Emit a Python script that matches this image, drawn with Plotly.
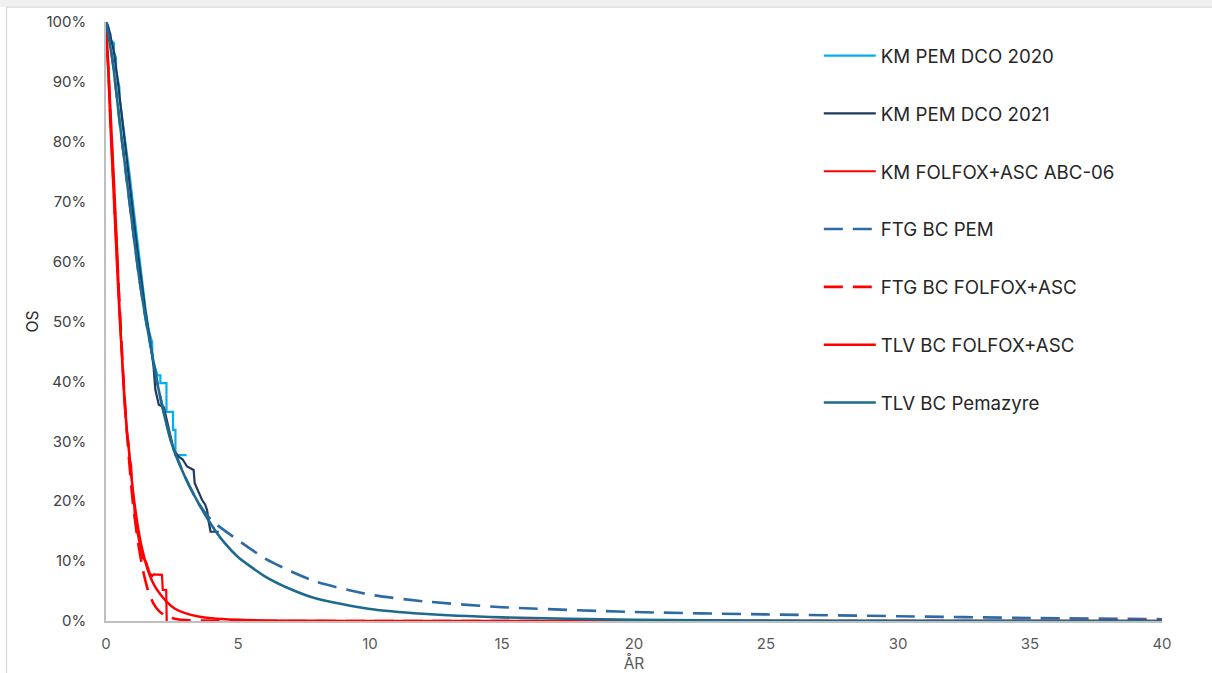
import plotly.graph_objects as go

# ---------------- data ----------------
# KM PEM DCO 2020 (light blue, step-like KM)
km2020_t = [0, 0.08, 0.08, 0.17, 0.17, 0.30, 0.30, 0.38, 0.38, 0.51, 0.51, 0.62, 0.75, 0.88, 1.0, 1.12,
            1.25, 1.38, 1.5, 1.62, 1.75, 1.75, 1.85, 1.95, 2.06, 2.06, 2.29, 2.29, 2.54, 2.54, 2.63, 2.63, 3.05]
km2020_s = [1.00, 0.995, 0.985, 0.98, 0.97, 0.965, 0.95, 0.94, 0.92, 0.89, 0.875, 0.84, 0.795, 0.75, 0.705, 0.66,
            0.61, 0.565, 0.52, 0.485, 0.465, 0.44, 0.425, 0.41, 0.41, 0.397, 0.397, 0.349, 0.349, 0.319, 0.319, 0.277, 0.277]

# KM PEM DCO 2021 (dark navy)
km2021_t = [0, 0.1, 0.2, 0.3, 0.45, 0.6, 0.75, 0.9, 1.05, 1.2, 1.35, 1.5, 1.65, 1.8, 1.87, 1.95, 2.0, 2.19, 2.3,
            2.4, 2.5, 2.57, 2.76, 2.9, 3.07, 3.2, 3.32, 3.36, 3.5, 3.64, 3.75, 3.83, 3.89, 3.96, 4.27]
km2021_s = [1.00, 0.99, 0.97, 0.95, 0.90, 0.84, 0.78, 0.72, 0.67, 0.615, 0.565, 0.515, 0.475, 0.425, 0.386, 0.37, 0.361, 0.357, 0.335,
            0.315, 0.298, 0.285, 0.274, 0.27, 0.258, 0.255, 0.252, 0.23, 0.215, 0.202, 0.195, 0.185, 0.166, 0.149, 0.149]

# KM FOLFOX+ASC ABC-06 (red, jagged)
kmred_t = [0, 0.05, 0.1, 0.15, 0.2, 0.25, 0.3, 0.38, 0.45, 0.52, 0.6, 0.68, 0.75, 0.8, 0.85, 0.9, 0.95, 1.0, 1.05, 1.1,
           1.15, 1.2, 1.3, 1.4, 1.5, 1.55, 1.65, 1.75, 1.8, 2.0, 2.12, 2.15, 2.28, 2.3]
kmred_s = [1.00, 0.96, 0.90, 0.84, 0.79, 0.74, 0.70, 0.62, 0.56, 0.50, 0.44, 0.38, 0.335, 0.31, 0.30, 0.27, 0.26, 0.22, 0.205, 0.17,
           0.16, 0.145, 0.125, 0.105, 0.10, 0.095, 0.08, 0.075, 0.078, 0.077, 0.077, 0.052, 0.052, 0.0]

# FTG BC PEM (dashed blue)
ftgpem_t = [0, 0.25, 0.5, 0.75, 1.0, 1.25, 1.5, 1.75, 2.0, 2.5, 3.0, 3.5, 4.0, 5.0, 6.0, 7.0, 8.0, 10.0, 12.0, 15.0,
            20.0, 25.0, 30.0, 35.0, 40.0]
ftgpem_s = [1.00, 0.935, 0.84, 0.75, 0.66, 0.575, 0.505, 0.445, 0.385, 0.295, 0.24, 0.197, 0.168, 0.135, 0.105, 0.083,
            0.065, 0.044, 0.033, 0.023, 0.015, 0.011, 0.008, 0.005, 0.003]

# FTG BC FOLFOX+ASC (dashed red)
ftgred_t = [0, 0.1, 0.2, 0.3, 0.4, 0.5, 0.6, 0.7, 0.8, 0.9, 1.0, 1.2, 1.4, 1.6, 1.8, 2.0, 2.2, 2.4, 2.7, 3.0, 4.0, 5.0, 40.0]
ftgred_s = [1.00, 0.91, 0.81, 0.715, 0.625, 0.54, 0.455, 0.375, 0.31, 0.255, 0.205, 0.135, 0.085, 0.05, 0.029, 0.017,
            0.01, 0.006, 0.003, 0.0015, 0.0003, 0.0, 0.0]

# TLV BC FOLFOX+ASC (solid red)
tlvred_t = [0, 0.1, 0.2, 0.3, 0.4, 0.5, 0.6, 0.7, 0.8, 0.9, 1.0, 1.1, 1.2, 1.3, 1.4, 1.5, 1.6, 1.8, 2.0, 2.3, 2.6,
            3.0, 3.5, 4.0, 5.0, 6.0, 8.0, 10.0, 15.0, 40.0]
tlvred_s = [1.00, 0.915, 0.825, 0.735, 0.64, 0.535, 0.445, 0.365, 0.315, 0.27, 0.225, 0.19, 0.16, 0.135, 0.115, 0.097,
            0.083, 0.062, 0.048, 0.032, 0.021, 0.013, 0.0075, 0.0045, 0.002, 0.001, 0.0003, 0.0001, 0.0, 0.0]

# TLV BC Pemazyre (solid teal)
tlvpem_t = [0, 0.25, 0.5, 0.75, 1.0, 1.25, 1.5, 1.75, 2.0, 2.5, 3.0, 3.5, 4.0, 4.5, 5.0, 6.0, 7.0, 8.0, 10.0, 12.0,
            15.0, 20.0, 25.0, 30.0, 40.0]
tlvpem_s = [1.00, 0.935, 0.84, 0.75, 0.66, 0.575, 0.505, 0.445, 0.385, 0.295, 0.24, 0.197, 0.16, 0.13, 0.107, 0.075,
            0.053, 0.037, 0.02, 0.012, 0.006, 0.002, 0.0008, 0.0003, 0.0]

series_names = ["KM PEM DCO 2020", "KM PEM DCO 2021", "KM FOLFOX+ASC ABC-06", "FTG BC PEM",
                "FTG BC FOLFOX+ASC", "TLV BC FOLFOX+ASC", "TLV BC Pemazyre"]

y_ticks = [0, 0.1, 0.2, 0.3, 0.4, 0.5, 0.6, 0.7, 0.8, 0.9, 1.0]
y_tick_labels = ["0%", "10%", "20%", "30%", "40%", "50%", "60%", "70%", "80%", "90%", "100%"]
x_ticks = [0, 5, 10, 15, 20, 25, 30, 35, 40]

# ---------------- figure ----------------
series = [
    (km2020_t, km2020_s, "#00B0F0", 2.2, "solid", "linear"),
    (km2021_t, km2021_s, "#1F3A60", 2.2, "solid", "linear"),
    (kmred_t, kmred_s, "#FF0000", 2.2, "solid", "linear"),
    (ftgpem_t, ftgpem_s, "#2E6AA6", 2.6, "19px,10px", "spline"),
    (ftgred_t, ftgred_s, "#FF0000", 2.6, "19px,10px", "spline"),
    (tlvred_t, tlvred_s, "#FF0000", 2.4, "solid", "spline"),
    (tlvpem_t, tlvpem_s, "#1C6A8E", 2.6, "solid", "spline"),
]

fig = go.Figure()
for (t, s, col, w, dash, shape), name in zip(series, series_names):
    fig.add_trace(go.Scatter(
        x=t, y=s, mode="lines", name=name, legendgroup=name,
        line=dict(color=col, width=w, dash=dash, shape=shape, smoothing=0.6 if shape == "spline" else None),
    ))

font_family = "Inter, 'Noto Sans', Arial, sans-serif"

fig.update_layout(
    width=1212, height=673,
    margin=dict(l=105.5, r=50, t=22, b=52),
    paper_bgcolor="white", plot_bgcolor="white",
    font=dict(family=font_family, color="#595959", size=15),
    showlegend=True,
    legend=dict(
        x=0.675, y=0.975, xanchor="left", yanchor="top",
        font=dict(size=18.7, color="#262626", family=font_family),
        tracegroupgap=30.5, itemwidth=52, bgcolor="rgba(0,0,0,0)",
    ),
    xaxis=dict(
        range=[0, 40], tickvals=x_ticks, ticktext=[str(v) for v in x_ticks],
        showgrid=False, zeroline=False, showline=True, linecolor="#BFBFBF", linewidth=1.5,
        ticks="", ticklabelstandoff=8, tickfont=dict(size=15, color="#595959"), automargin=False,
        title=dict(text="ÅR", font=dict(size=15.5, color="#595959"), standoff=4),
    ),
    yaxis=dict(
        range=[0, 1.0], tickvals=y_ticks, ticktext=y_tick_labels,
        showgrid=False, zeroline=False, showline=True, linecolor="#BFBFBF", linewidth=1.5,
        ticks="", ticklabelstandoff=15, tickfont=dict(size=15, color="#404040"), automargin=False,
        title=dict(text="OS", font=dict(size=15.5, color="#262626"), standoff=4),
    ),
)

# chart frame (light grey border like the source screenshot)
fig.add_shape(type="rect", xref="paper", yref="paper",
              x0=-2, x1=2, y0=1.025, y1=1.2, fillcolor="#F0F0F0", line=dict(width=0), layer="below")
fig.add_shape(type="rect", xref="paper", yref="paper",
              x0=-0.0942, x1=1.2, y0=-0.2, y1=1.025, fillcolor="rgba(0,0,0,0)",
              line=dict(color="#D9D9D9", width=1.2), layer="below")

fig.write_html("out.html")
